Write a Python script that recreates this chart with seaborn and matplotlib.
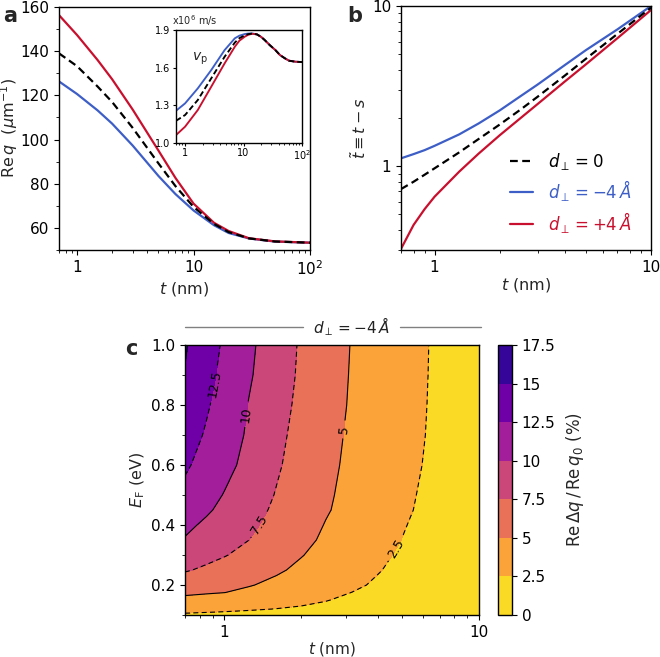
import numpy as np
import matplotlib
matplotlib.use("Agg")
import matplotlib.pyplot as plt
from matplotlib.ticker import MultipleLocator, NullFormatter, FixedLocator, LogLocator
import seaborn as sns

# --- panel a: Re q versus thickness t (nm) ---
t_a = [0.7, 1.0, 1.5, 2.0, 3.0, 5.0, 7.0, 10.0, 15.0, 20.0, 30.0, 50.0, 100.0]
req_zero = [139.0, 133.2, 124.0, 117.0, 105.3, 89.2, 78.9, 69.5, 61.8, 58.1, 55.25, 53.85, 53.3]
req_minus = [126.3, 120.6, 113.2, 107.2, 97.3, 83.5, 75.3, 67.9, 61.2, 57.7, 55.2, 53.8, 53.3]
req_plus = [156.3, 147.3, 136.0, 127.3, 113.6, 95.0, 82.6, 71.0, 62.3, 58.6, 55.3, 53.9, 53.3]

# inset: phase velocity (x1e6 m/s)
t_vp = [0.7, 1.0, 1.65, 2.8, 4.75, 7.1, 8.5, 10.5, 12.0, 14.0, 17.0, 20.0, 23.0, 28.0,
        35.0, 42.0, 51.0, 60.0, 77.0, 100.0]
vp_zero = [1.175, 1.221, 1.341, 1.514, 1.687, 1.800, 1.835, 1.858, 1.867, 1.872, 1.865,
           1.845, 1.820, 1.780, 1.740, 1.700, 1.674, 1.655, 1.647, 1.644]
vp_minus = [1.255, 1.314, 1.434, 1.580, 1.740, 1.834, 1.855, 1.868, 1.872, 1.873, 1.865,
            1.845, 1.820, 1.780, 1.740, 1.700, 1.674, 1.655, 1.647, 1.644]
vp_plus = [1.061, 1.128, 1.261, 1.447, 1.634, 1.767, 1.815, 1.847, 1.862, 1.870, 1.865,
           1.845, 1.820, 1.780, 1.740, 1.700, 1.674, 1.655, 1.647, 1.644]

# --- panel b: effective thickness t~ = t - s ---
t_b = [0.7, 0.8, 0.9, 1.0, 1.3, 1.6, 2.0, 2.5, 3.0, 4.0, 5.0, 7.0, 10.0]
tt_zero = [0.72, 0.80, 0.885, 0.97, 1.22, 1.48, 1.82, 2.26, 2.72, 3.68, 4.68, 6.70, 9.77]
tt_minus = [1.12, 1.19, 1.26, 1.34, 1.58, 1.85, 2.23, 2.74, 3.24, 4.28, 5.30, 7.15, 10.0]
tt_plus = [0.305, 0.43, 0.54, 0.645, 0.925, 1.20, 1.56, 2.00, 2.45, 3.38, 4.32, 6.30, 9.44]

# --- panel c: Re dq / Re q0 (%) on (t, E_F) grid, d_perp = -4 A ---
t_c = [0.7, 0.85, 1.0, 1.25, 1.6, 2.0, 2.5, 3.2, 4.0, 5.0, 6.5, 10.0]
ef_c = [0.1, 0.12, 0.15, 0.175, 0.2, 0.25, 0.3, 0.35, 0.4, 0.45, 0.5, 0.6, 0.7, 0.8, 0.9, 1.0]
dq_c = [
    [2.24, 2.15, 2.08, 1.98, 1.86, 1.74, 1.60, 1.45, 1.30, 1.15, 0.95, 0.30],
    [3.11, 2.96, 2.84, 2.66, 2.47, 2.30, 2.10, 1.85, 1.60, 1.35, 1.00, 0.30],
    [4.45, 4.16, 3.92, 3.59, 3.23, 2.90, 2.57, 2.15, 1.76, 1.40, 1.00, 0.30],
    [5.38, 5.19, 5.02, 4.55, 4.00, 3.51, 3.01, 2.46, 1.95, 1.50, 1.10, 0.30],
    [6.19, 5.83, 5.53, 5.12, 4.54, 3.98, 3.41, 2.80, 2.25, 1.71, 1.20, 0.35],
    [7.70, 7.13, 6.65, 6.00, 5.27, 4.61, 3.97, 3.26, 2.61, 2.02, 1.34, 0.40],
    [8.75, 8.14, 7.62, 6.82, 5.92, 5.09, 4.38, 3.60, 2.90, 2.23, 1.53, 0.50],
    [9.85, 9.06, 8.40, 7.50, 6.46, 5.52, 4.68, 3.89, 3.18, 2.47, 1.80, 0.60],
    [10.48, 9.62, 8.90, 7.91, 6.83, 5.85, 4.91, 4.10, 3.36, 2.62, 1.89, 0.72],
    [11.20, 10.29, 9.46, 8.32, 7.13, 6.15, 5.17, 4.30, 3.54, 2.79, 2.02, 0.85],
    [11.90, 10.80, 9.89, 8.69, 7.38, 6.34, 5.29, 4.38, 3.63, 2.88, 2.09, 0.93],
    [12.83, 11.66, 10.68, 9.31, 7.77, 6.61, 5.50, 4.52, 3.78, 3.05, 2.24, 1.07],
    [13.56, 12.26, 11.17, 9.68, 8.05, 6.79, 5.67, 4.63, 3.89, 3.15, 2.33, 1.15],
    [14.25, 12.75, 11.54, 9.90, 8.32, 7.01, 5.86, 4.74, 3.98, 3.22, 2.37, 1.20],
    [14.90, 13.20, 11.89, 10.24, 8.57, 7.17, 6.00, 4.80, 4.04, 3.27, 2.40, 1.22],
    [15.20, 13.53, 12.18, 10.43, 8.70, 7.26, 6.08, 4.86, 4.08, 3.31, 2.42, 1.25],
]
levels_c = [0, 2.5, 5, 7.5, 10, 12.5, 15, 17.5]
level_labels = ["0", "2.5", "5", "7.5", "10", "12.5", "15", "17.5"]

sns.set_style("ticks")
plt.rcParams["font.family"] = ["DejaVu Sans"]
plt.rcParams["mathtext.fontset"] = "dejavusans"
plt.rcParams["axes.edgecolor"] = "black"
plt.rcParams["xtick.color"] = "black"
plt.rcParams["ytick.color"] = "black"
plt.rcParams["axes.linewidth"] = 1.0

BLUE = "#3d5ec6"
RED = "#c8102e"
LW = 1.6
TICK_FS = 11
LAB_FS = 11.5
DASH = (0, (3.5, 2))

fig = plt.figure(figsize=(6.6, 6.57), dpi=100)

# ---------------- panel a ----------------
ax_a = fig.add_axes([0.0894, 0.6195, 0.3803, 0.3699])
sns.lineplot(x=t_a, y=req_minus, ax=ax_a, color=BLUE, lw=LW)
sns.lineplot(x=t_a, y=req_plus, ax=ax_a, color=RED, lw=LW)
sns.lineplot(x=t_a, y=req_zero, ax=ax_a, color="black", lw=LW, linestyle=DASH)
ax_a.set_xscale("log")
ax_a.set_xlim(0.7, 100)
ax_a.set_ylim(50, 160)
ax_a.xaxis.set_major_locator(FixedLocator([1, 10, 100]))
ax_a.set_xticklabels(["1", "10", r"$10^2$"])
ax_a.xaxis.set_minor_locator(LogLocator(subs=np.arange(2, 10)))
ax_a.xaxis.set_minor_formatter(NullFormatter())
ax_a.yaxis.set_major_locator(MultipleLocator(20))
ax_a.yaxis.set_minor_locator(MultipleLocator(10))
ax_a.tick_params(labelsize=TICK_FS)
ax_a.set_xlabel(r"$t$ (nm)", fontsize=LAB_FS, labelpad=1)
ax_a.set_ylabel(r"$\mathrm{Re}\,q$  $(\mu\mathrm{m}^{-1})$", fontsize=LAB_FS, labelpad=0)

# inset
ax_in = fig.add_axes([0.2667, 0.7828, 0.1909, 0.1715])
sns.lineplot(x=t_vp, y=vp_minus, ax=ax_in, color=BLUE, lw=LW * 0.85)
sns.lineplot(x=t_vp, y=vp_plus, ax=ax_in, color=RED, lw=LW * 0.85)
sns.lineplot(x=t_vp, y=vp_zero, ax=ax_in, color="black", lw=LW * 0.85, linestyle=(0, (3, 1.6)))
ax_in.set_xscale("log")
ax_in.set_xlim(0.7, 100)
ax_in.set_ylim(1.0, 1.9)
ax_in.xaxis.set_major_locator(FixedLocator([1, 10, 100]))
ax_in.set_xticklabels(["1", "10", r"$10^2$"])
ax_in.xaxis.set_minor_locator(LogLocator(subs=np.arange(2, 10)))
ax_in.xaxis.set_minor_formatter(NullFormatter())
ax_in.set_yticks([1.0, 1.3, 1.6, 1.9])
ax_in.tick_params(labelsize=7, length=2.5, pad=1.5)
ax_in.tick_params(which="minor", length=1.5)
ax_in.set_xlabel("")
ax_in.set_ylabel("")
ax_in.text(-0.03, 1.02, r"x$10^6$ m/s", transform=ax_in.transAxes, fontsize=7,
           ha="left", va="bottom")
ax_in.text(0.13, 0.73, r"$v_\mathrm{p}$", transform=ax_in.transAxes, fontsize=10,
           ha="left", va="baseline")

# ---------------- panel b ----------------
ax_b = fig.add_axes([0.6076, 0.6195, 0.3788, 0.3714])
sns.lineplot(x=t_b, y=tt_minus, ax=ax_b, color=BLUE, lw=LW, label=r"$d_\perp = -4\,Å$")
sns.lineplot(x=t_b, y=tt_plus, ax=ax_b, color=RED, lw=LW, label=r"$d_\perp = +4\,Å$")
sns.lineplot(x=t_b, y=tt_zero, ax=ax_b, color="black", lw=LW, linestyle=DASH,
             label=r"$d_\perp = 0$")
ax_b.set_xscale("log")
ax_b.set_yscale("log")
ax_b.set_xlim(0.7, 10)
ax_b.set_ylim(0.3, 10)
ax_b.xaxis.set_major_locator(FixedLocator([1, 10]))
ax_b.set_xticklabels(["1", "10"])
ax_b.yaxis.set_major_locator(FixedLocator([1, 10]))
ax_b.set_yticklabels(["1", "10"])
for axis in (ax_b.xaxis, ax_b.yaxis):
    axis.set_minor_locator(LogLocator(subs=np.arange(2, 10)))
    axis.set_minor_formatter(NullFormatter())
ax_b.tick_params(labelsize=TICK_FS)
ax_b.set_xlabel(r"$t$ (nm)", fontsize=LAB_FS, labelpad=1)
ax_b.set_ylabel(r"$\tilde{t} \equiv t - s$", fontsize=LAB_FS, labelpad=2)
handles, labels = ax_b.get_legend_handles_labels()
order = [2, 0, 1]
ax_b.legend([handles[i] for i in order], [labels[i] for i in order],
            loc="lower right", bbox_to_anchor=(0.98, 0.0), frameon=False,
            fontsize=12, handlelength=1.35, handletextpad=0.9, labelspacing=0.4,
            labelcolor="linecolor")

# ---------------- panel c ----------------
# contours are built in log10(t) so the grid is interpolated along the log axis
ax_c = fig.add_axes([0.2803, 0.0639, 0.4455, 0.411])
cax = fig.add_axes([0.7545, 0.0639, 0.0212, 0.411])
logT, E = np.meshgrid(np.log10(t_c), ef_c)
Z = np.array(dq_c)
cf = ax_c.contourf(logT, E, Z, levels=levels_c, cmap="plasma_r")
line_levels = levels_c[1:-1]
cdash = (0, (4.5, 3))
cs = ax_c.contour(logT, E, Z, levels=line_levels, colors="black", linewidths=0.8,
                  linestyles=[cdash, "solid", cdash, "solid", cdash, "solid"])
ax_c.set_xlim(np.log10(0.7), 1.0)
ax_c.set_ylim(0.1, 1.0)
label_pos = [(4.8, 0.32), (2.84, 0.72), (1.35, 0.405), (1.2, 0.77), (0.91, 0.87)]
ax_c.clabel(cs, levels=[2.5, 5, 7.5, 10, 12.5], inline=True, fontsize=9,
            fmt=lambda v: f"{v:g}",
            manual=[(np.log10(x), y) for x, y in label_pos])
ax_c.set_xticks([0, 1])
ax_c.set_xticklabels(["1", "10"])
ax_c.set_xticks(np.log10([0.7, 0.8, 0.9, 2, 3, 4, 5, 6, 7, 8, 9]), minor=True)
ax_c.yaxis.set_major_locator(FixedLocator([0.2, 0.4, 0.6, 0.8, 1.0]))
ax_c.yaxis.set_minor_locator(MultipleLocator(0.1))
ax_c.tick_params(labelsize=TICK_FS)
ax_c.set_xlabel(r"$t$ (nm)", fontsize=11, labelpad=0)
ax_c.set_ylabel(r"$E_\mathrm{F}$ (eV)", fontsize=LAB_FS, labelpad=3)

cb = fig.colorbar(cf, cax=cax, ticks=levels_c)
cb.ax.set_yticklabels(level_labels)
cb.ax.tick_params(labelsize=TICK_FS)
cb.outline.set_edgecolor("black")
cb.set_label(r"$\mathrm{Re}\,\Delta q\,/\,\mathrm{Re}\,q_0$ (%)", fontsize=12, labelpad=6)

# header over panel c
ax_c.plot([0.0, 0.40], [1.067, 1.067], transform=ax_c.transAxes, color="gray",
          lw=1.0, clip_on=False)
ax_c.plot([0.73, 1.007], [1.067, 1.067], transform=ax_c.transAxes, color="gray",
          lw=1.0, clip_on=False)
ax_c.text(0.565, 1.067, r"$d_\perp = -4\,Å$", transform=ax_c.transAxes, fontsize=11,
          ha="center", va="center", color="#222222")

# panel letters
fig.text(0.005, 0.9665, "a", fontsize=15, fontweight="bold")
fig.text(0.526, 0.9665, "b", fontsize=15, fontweight="bold")
fig.text(0.190, 0.4597, "c", fontsize=15, fontweight="bold")

fig.savefig("out.png", dpi=100)
